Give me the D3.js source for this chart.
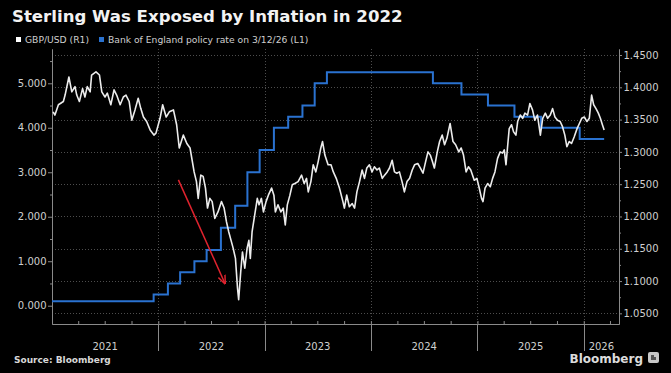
<!DOCTYPE html>
<html><head><meta charset="utf-8">
<script src="https://cdn.jsdelivr.net/npm/d3@7"></script>
<style>html,body{margin:0;padding:0;background:#000;} svg{display:block;}</style>
</head><body>
<svg id="chart" width="671" height="373"></svg>
<script>
const titleText = "Sterling Was Exposed by Inflation in 2022";
const legendLabels = ["GBP/USD (R1)", "Bank of England policy rate on 3/12/26 (L1)"];
const sourceText = "Source: Bloomberg";
const brandText = "Bloomberg";

const gbpDates = [
"2021-01-05","2021-01-11","2021-01-23","2021-02-09","2021-02-15","2021-02-28","2021-03-10","2021-03-21","2021-03-27","2021-04-05",
"2021-04-16","2021-04-24","2021-05-02","2021-05-12","2021-05-17","2021-06-01","2021-06-13","2021-06-21","2021-07-02","2021-07-10",
"2021-07-22","2021-08-02","2021-08-11","2021-08-23","2021-09-03","2021-09-12","2021-09-23","2021-10-02","2021-10-13","2021-10-24",
"2021-11-02","2021-11-11","2021-11-22","2021-12-04","2021-12-17","2021-12-24","2022-01-07","2022-01-16","2022-01-28","2022-02-08",
"2022-02-22","2022-03-05","2022-03-14","2022-03-28","2022-04-09","2022-04-20","2022-05-04","2022-05-12","2022-05-18","2022-05-27",
"2022-06-04","2022-06-12","2022-06-19","2022-06-27","2022-07-05","2022-07-14","2022-07-25","2022-08-06","2022-08-15","2022-08-23",
"2022-08-31","2022-09-09","2022-09-15","2022-09-23","2022-09-30","2022-10-04","2022-10-11","2022-10-17","2022-10-25","2022-11-02",
"2022-11-08","2022-11-13","2022-11-19","2022-11-28","2022-12-07","2022-12-13","2022-12-21","2022-12-28","2023-01-06","2023-01-14",
"2023-01-25","2023-02-02","2023-02-07","2023-02-16","2023-02-26","2023-03-06","2023-03-13","2023-03-20","2023-03-29","2023-04-06",
"2023-04-15","2023-04-26","2023-05-08","2023-05-17","2023-05-25","2023-05-31","2023-06-09","2023-06-17","2023-06-26","2023-07-04",
"2023-07-13","2023-07-19","2023-07-27","2023-08-07","2023-08-17","2023-08-25","2023-09-04","2023-09-15","2023-09-27","2023-10-02",
"2023-10-10","2023-10-19","2023-10-29","2023-11-06","2023-11-14","2023-11-23","2023-12-02","2023-12-10","2023-12-18","2023-12-27",
"2024-01-05","2024-01-13","2024-01-22","2024-01-30","2024-02-09","2024-02-17","2024-02-26","2024-03-05","2024-03-14","2024-03-22",
"2024-03-30","2024-04-08","2024-04-17","2024-04-25","2024-05-04","2024-05-13","2024-05-22","2024-05-30","2024-06-10","2024-06-19",
"2024-06-28","2024-07-07","2024-07-15","2024-07-23","2024-07-29","2024-08-06","2024-08-16","2024-08-24","2024-09-02","2024-09-10",
"2024-09-18","2024-09-29","2024-10-09","2024-10-18","2024-10-29","2024-11-06","2024-11-14","2024-11-23","2024-12-01","2024-12-09",
"2024-12-21","2024-12-30","2025-01-07","2025-01-15","2025-01-20","2025-01-27","2025-02-05","2025-02-14","2025-02-22","2025-03-02",
"2025-03-11","2025-03-20","2025-03-28","2025-04-03","2025-04-09","2025-04-14","2025-04-20","2025-04-28","2025-05-05","2025-05-13",
"2025-05-19","2025-05-28","2025-06-05","2025-06-13","2025-06-22","2025-06-30","2025-07-09","2025-07-17","2025-07-26","2025-08-05",
"2025-08-13","2025-08-22","2025-08-30","2025-09-08","2025-09-16","2025-09-24","2025-10-03","2025-10-12","2025-10-20","2025-10-28",
"2025-11-04","2025-11-12","2025-11-20","2025-11-29","2025-12-09","2025-12-17","2025-12-25","2026-01-03","2026-01-12","2026-01-20",
"2026-01-28","2026-02-04","2026-02-12","2026-02-20","2026-02-27","2026-03-06","2026-03-12"];
const gbpValues = [
1.362,1.357,1.373,1.378,1.388,1.416,1.393,1.401,1.388,1.378,
1.398,1.385,1.401,1.393,1.419,1.424,1.419,1.393,1.385,1.391,
1.373,1.396,1.388,1.373,1.385,1.388,1.378,1.349,1.365,1.383,
1.367,1.354,1.347,1.334,1.326,1.329,1.352,1.373,1.354,1.362,
1.365,1.342,1.306,1.326,1.313,1.306,1.269,1.254,1.228,1.264,
1.262,1.244,1.213,1.228,1.223,1.197,1.207,1.223,1.213,1.192,
1.176,1.161,1.151,1.135,1.089,1.071,1.114,1.145,1.120,1.151,
1.163,1.135,1.176,1.202,1.228,1.218,1.228,1.207,1.223,1.233,
1.244,1.233,1.207,1.218,1.207,1.213,1.187,1.218,1.233,1.249,
1.251,1.254,1.264,1.251,1.259,1.238,1.254,1.280,1.269,1.285,
1.306,1.316,1.295,1.280,1.280,1.269,1.259,1.244,1.223,1.213,
1.233,1.215,1.220,1.213,1.238,1.254,1.272,1.259,1.275,1.280,
1.269,1.277,1.272,1.275,1.259,1.264,1.269,1.275,1.287,1.269,
1.267,1.269,1.254,1.238,1.254,1.259,1.272,1.280,1.282,1.275,
1.267,1.285,1.300,1.295,1.287,1.275,1.300,1.316,1.326,1.311,
1.321,1.344,1.316,1.311,1.300,1.306,1.295,1.269,1.277,1.272,
1.256,1.259,1.244,1.228,1.223,1.244,1.251,1.246,1.259,1.269,
1.290,1.300,1.298,1.303,1.280,1.306,1.336,1.342,1.331,1.326,
1.347,1.357,1.352,1.360,1.357,1.375,1.365,1.349,1.357,1.326,
1.352,1.360,1.352,1.357,1.367,1.354,1.349,1.347,1.339,1.326,
1.308,1.316,1.313,1.323,1.336,1.344,1.352,1.354,1.347,1.352,
1.388,1.373,1.367,1.360,1.352,1.342,1.334];

const rateDates = ["2021-01-01","2021-12-16","2022-02-03","2022-03-17","2022-05-05","2022-06-16","2022-08-04","2022-09-22","2022-11-03","2022-12-15",
"2023-02-02","2023-03-23","2023-05-11","2023-06-22","2023-08-03","2024-08-01","2024-11-07","2025-02-06","2025-05-08","2025-08-07","2025-12-18","2026-03-12"];
const rateValues = [0.10,0.25,0.50,0.75,1.00,1.25,1.75,2.25,3.00,3.50,4.00,4.25,4.50,5.00,5.25,5.00,4.75,4.50,4.25,4.00,3.75,3.75];

const leftTicks = [0,1,2,3,4,5];
const leftMinorTicks = [0.5,1.5,2.5,3.5,4.5,5.5];
const rightTicks = [1.05,1.10,1.15,1.20,1.25,1.30,1.35,1.40,1.45];
const rightMinorTicks = [1.075,1.125,1.175,1.225,1.275,1.325,1.375,1.425];
const yearLabels = ["2021","2022","2023","2024","2025","2026"];
const arrowStart = {date:"2022-03-11", rate:2.83};
const arrowEnd = {date:"2022-08-18", rate:0.50};

const parse = d3.utcParse("%Y-%m-%d");
const svg = d3.select("#chart");
const W = 671, H = 373;
const m = {left:52, right:619, top:49, bottom:324};
const FONT = "DejaVu Sans, Verdana, sans-serif";

svg.append("rect").attr("width",W).attr("height",H).attr("fill","#000");

const x = d3.scaleUtc().domain([parse("2021-01-01"), parse("2026-05-02")]).range([m.left, m.right]);
const yL = d3.scaleLinear().domain([-0.411, 5.771]).range([m.bottom, m.top]);
const yR = d3.scaleLinear().domain([1.0335, 1.4593]).range([m.bottom, m.top]);

// title
const title = svg.append("text").attr("x",12).attr("y",22)
  .attr("font-family",FONT).attr("font-weight","bold").attr("font-size",17)
  .attr("fill","#f2f2f2").text(titleText);
const tw = title.node().getComputedTextLength();
title.attr("font-size", 17*391/tw);

// legend
const lg = svg.append("g").attr("font-family",FONT).attr("font-size",9.2).attr("fill","#cfcfcf");
lg.append("rect").attr("x",16).attr("y",37).attr("width",5).attr("height",5).attr("fill","#ffffff");
lg.append("text").attr("x",25).attr("y",42.8).text(legendLabels[0]);
lg.append("rect").attr("x",99).attr("y",37).attr("width",5).attr("height",5).attr("fill","#2a72d0");
lg.append("text").attr("x",108).attr("y",42.8).text(legendLabels[1]);

// gridlines
const grid = svg.append("g").attr("stroke","#4d4d4d").attr("stroke-width",1).attr("stroke-dasharray","1,2");
grid.selectAll("line.h").data(rightTicks).join("line").attr("class","h")
  .attr("x1",m.left).attr("x2",m.right)
  .attr("y1",d=>Math.round(yR(d))+0.5).attr("y2",d=>Math.round(yR(d))+0.5);
const yearStarts = yearLabels.map(y=>parse(y+"-01-01"));
grid.selectAll("line.v").data(yearStarts.slice(1)).join("line").attr("class","v")
  .attr("x1",d=>Math.round(x(d))+0.5).attr("x2",d=>Math.round(x(d))+0.5)
  .attr("y1",m.top).attr("y2",m.bottom);

// left axis
function styleAxis(g){
  g.selectAll("path,line").attr("stroke","#8a8a8a");
  g.selectAll("text").attr("fill","#cfcfcf").attr("font-family",FONT).attr("font-size",10);
}
svg.append("g").attr("transform",`translate(${m.left},0)`)
  .call(d3.axisLeft(yL).tickValues(leftTicks).tickFormat(d3.format(".3f")).tickSize(4).tickSizeOuter(0).tickPadding(1.5))
  .call(styleAxis);
svg.append("g").attr("transform",`translate(${m.left},0)`)
  .call(d3.axisLeft(yL).tickValues(leftMinorTicks).tickFormat("").tickSize(2).tickSizeOuter(0))
  .call(styleAxis);

// right axis
svg.append("g").attr("transform",`translate(${m.right},0)`)
  .call(d3.axisRight(yR).tickValues(rightTicks).tickFormat(d3.format(".4f")).tickSize(3).tickSizeOuter(0).tickPadding(1.5))
  .call(styleAxis);
svg.append("g").attr("transform",`translate(${m.right},0)`)
  .call(d3.axisRight(yR).tickValues(rightMinorTicks).tickFormat("").tickSize(2).tickSizeOuter(0))
  .call(styleAxis);

// bottom axis: quarter ticks upward
const quarters = d3.utcMonth.every(3).range(parse("2021-01-01"), parse("2026-05-02"));
svg.append("g").attr("transform",`translate(0,${m.bottom})`)
  .call(d3.axisBottom(x).tickValues(quarters).tickFormat("").tickSize(-3).tickSizeOuter(0))
  .call(styleAxis);
// year separators
svg.append("g").selectAll("line").data(yearStarts.slice(1)).join("line")
  .attr("x1",d=>Math.round(x(d))+0.5).attr("x2",d=>Math.round(x(d))+0.5)
  .attr("y1",m.bottom).attr("y2",351).attr("stroke","#8a8a8a");
// year labels
const xEnd = x.domain()[1];
svg.append("g").attr("font-family",FONT).attr("font-size",10).attr("fill","#cfcfcf").attr("text-anchor","middle")
  .selectAll("text").data(yearLabels).join("text")
  .attr("x",(d,i)=>{
    const s = yearStarts[i];
    const e = i+1<yearStarts.length ? yearStarts[i+1] : d3.min([parse((+d+1)+"-01-01"), xEnd]);
    return (x(s)+x(e))/2;
  })
  .attr("y",349.5).text(d=>d);

// policy rate (step)
const rateData = rateDates.map((d,i)=>({date:parse(d), v:rateValues[i]}));
svg.append("path").datum(rateData)
  .attr("fill","none").attr("stroke","#2a72d0").attr("stroke-width",2)
  .attr("d", d3.line().x(d=>x(d.date)).y(d=>yL(d.v)).curve(d3.curveStepAfter));

// GBP/USD
const gbpData = gbpDates.map((d,i)=>({date:parse(d), v:gbpValues[i]}));
svg.append("path").datum(gbpData)
  .attr("fill","none").attr("stroke","#ececec").attr("stroke-width",1.6).attr("stroke-linejoin","round")
  .attr("d", d3.line().x(d=>x(d.date)).y(d=>yR(d.v)));

// red arrow annotation
const defs = svg.append("defs");
defs.append("marker").attr("id","ah").attr("viewBox","0 0 10 10").attr("refX",9).attr("refY",5)
  .attr("markerWidth",6).attr("markerHeight",6).attr("orient","auto")
  .append("path").attr("d","M0,1 L10,5 L0,9").attr("fill","none").attr("stroke","#e0232e").attr("stroke-width",1.6);
svg.append("line")
  .attr("x1",x(parse(arrowStart.date))).attr("y1",yL(arrowStart.rate))
  .attr("x2",x(parse(arrowEnd.date))).attr("y2",yL(arrowEnd.rate))
  .attr("stroke","#e0232e").attr("stroke-width",1.5).attr("marker-end","url(#ah)");

// footer
svg.append("text").attr("x",14).attr("y",363).attr("font-family",FONT).attr("font-weight","bold")
  .attr("font-size",9).attr("fill","#d8d8d8").text(sourceText);
svg.append("text").attr("x",643).attr("y",363).attr("text-anchor","end").attr("font-family",FONT)
  .attr("font-weight","600").attr("font-size",12).attr("fill","#dcdcdc").text(brandText);
const icon = svg.append("g").attr("transform","translate(648,352)");
icon.append("rect").attr("width",11).attr("height",11).attr("rx",2).attr("fill","#c8c8c8");
icon.append("path").attr("d","M3,3 L6,3 L6,5 L8,5 L8,8 L3,8 Z").attr("fill","#555");
</script>
</body></html>
